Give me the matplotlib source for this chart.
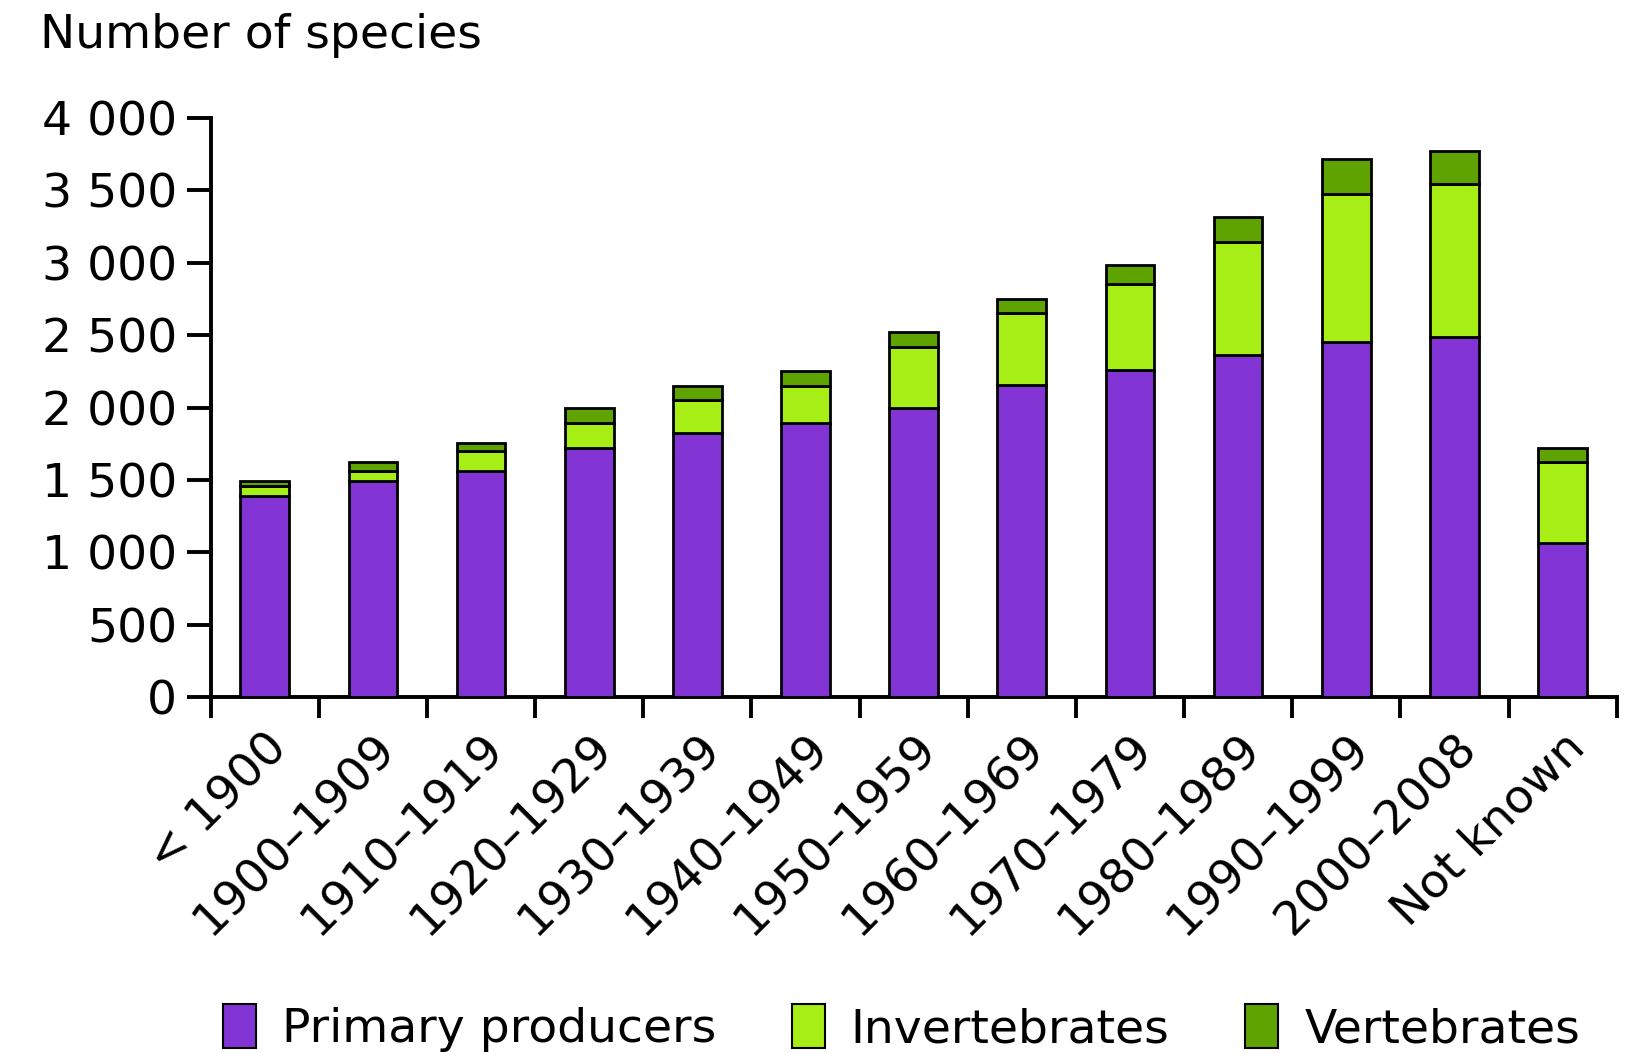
import matplotlib
matplotlib.use("Agg")
import matplotlib.pyplot as plt
from matplotlib.ticker import FuncFormatter, FixedLocator
from matplotlib.patches import Patch

categories = ["< 1900", "1900\u20131909", "1910\u20131919", "1920\u20131929", "1930\u20131939",
              "1940\u20131949", "1950\u20131959", "1960\u20131969", "1970\u20131979",
              "1980\u20131989", "1990\u20131999", "2000\u20132008", "Not known"]
primary = [1390, 1490, 1560, 1720, 1825, 1890, 1995, 2155, 2260, 2360, 2455, 2490, 1065]
invertebrates = [70, 70, 137, 175, 230, 260, 425, 500, 590, 785, 1020, 1055, 560]
vertebrates = [30, 65, 58, 100, 95, 105, 100, 95, 135, 170, 240, 225, 95]
series_names = ["Primary producers", "Invertebrates", "Vertebrates"]
colors = ["#8233D4", "#A6EE16", "#5EA300"]

FS = 34
plt.rcParams['font.family'] = ['DejaVu Sans']
fig = plt.figure(figsize=(16.33, 10.53), dpi=100)
ax = fig.add_axes([0.129, 0.338, 0.861, 0.550])

x = list(range(len(categories)))
w = 0.45
bottom2 = [p + i for p, i in zip(primary, invertebrates)]
ax.bar(x, primary, w, color=colors[0], edgecolor="black", linewidth=2.0, zorder=3)
ax.bar(x, invertebrates, w, bottom=primary, color=colors[1], edgecolor="black", linewidth=2.0, zorder=3)
ax.bar(x, vertebrates, w, bottom=bottom2, color=colors[2], edgecolor="black", linewidth=2.0, zorder=3)

ax.set_xlim(-0.5, len(categories) - 0.5)
ax.set_ylim(0, 4000)
ax.set_yticks(range(0, 4001, 500))
ax.yaxis.set_major_formatter(FuncFormatter(lambda v, p: f"{int(v):,}".replace(",", " ")))

ax.set_xticks(x)
ax.set_xticklabels(categories, rotation=45, ha="right", va="top", rotation_mode="anchor")
ax.xaxis.set_minor_locator(FixedLocator([i - 0.5 for i in range(len(categories) + 1)]))
ax.tick_params(axis="x", which="major", length=0, pad=20, labelsize=FS)
ax.tick_params(axis="x", which="minor", length=15, width=2.8, direction="out")
ax.tick_params(axis="y", which="major", length=17, width=2.8, direction="out", labelsize=FS, pad=7)

for s in ["top", "right"]:
    ax.spines[s].set_visible(False)
for s in ["left", "bottom"]:
    ax.spines[s].set_linewidth(2.8)

fig.text(40 / 1633, 1 - 36 / 1053, "Number of species", fontsize=FS, va="center", ha="left")

handles = [Patch(facecolor=c, edgecolor="black", linewidth=1.5) for c in colors]
fig.legend(handles, series_names, loc="center", bbox_to_anchor=(0.552, 1 - 1028 / 1053), ncol=3,
           frameon=False, fontsize=FS, handlelength=0.7, handleheight=1.05,
           columnspacing=1.6, handletextpad=0.55, borderpad=0.1)

fig.savefig("out.png", dpi=100)
